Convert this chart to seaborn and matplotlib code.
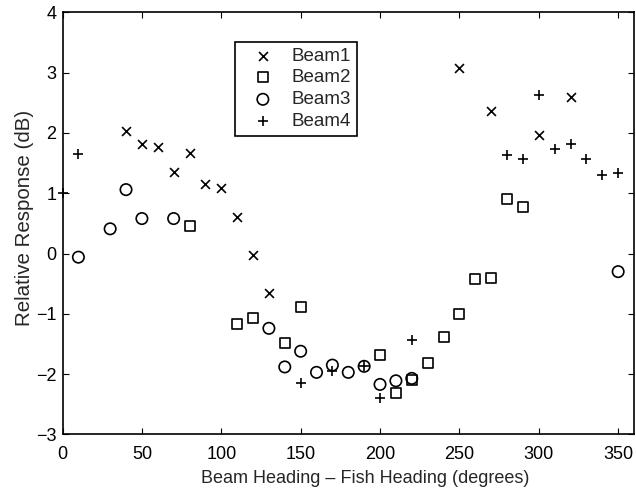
import matplotlib
matplotlib.use("Agg")
import matplotlib.pyplot as plt
import seaborn as sns
import pandas as pd

# Relative response of each beam versus beam heading minus fish heading
beam1_x = [40, 50, 60, 70, 80, 90, 100, 110, 120, 130, 250, 270, 300, 320]
beam1_y = [2.03, 1.82, 1.76, 1.35, 1.66, 1.15, 1.09, 0.61, -0.03, -0.66, 3.07, 2.36, 1.96, 2.59]

beam2_x = [80, 110, 120, 140, 150, 200, 210, 220, 230, 240, 250, 260, 270, 280, 290]
beam2_y = [0.46, -1.17, -1.07, -1.48, -0.88, -1.68, -2.31, -2.10, -1.81, -1.39, -1.01, -0.43, -0.40, 0.90, 0.78]

beam3_x = [10, 30, 40, 50, 70, 130, 140, 150, 160, 170, 180, 190, 200, 210, 220, 350]
beam3_y = [-0.06, 0.41, 1.06, 0.58, 0.58, -1.24, -1.88, -1.62, -1.97, -1.85, -1.97, -1.87, -2.17, -2.11, -2.07, -0.30]

beam4_x = [0, 10, 150, 170, 190, 200, 220, 280, 290, 300, 310, 320, 330, 340, 350]
beam4_y = [1.0, 1.65, -2.14, -1.94, -1.87, -2.39, -1.44, 1.63, 1.56, 2.63, 1.73, 1.81, 1.56, 1.31, 1.34]

beam_names = ["Beam1", "Beam2", "Beam3", "Beam4"]
x_ticks = [0, 50, 100, 150, 200, 250, 300, 350]
y_ticks = [-3, -2, -1, 0, 1, 2, 3, 4]

sns.set_style("white")
plt.rcParams["font.family"] = ["Liberation Sans", "DejaVu Sans"]
plt.rcParams["font.size"] = 13

fig = plt.figure(figsize=(6.36, 4.90), dpi=100)
ax = fig.add_axes([0.0983, 0.1133, 0.8986, 0.8616])

series = [
    (beam1_x, beam1_y, "x", 6.4, True),
    (beam2_x, beam2_y, "s", 7.2, False),
    (beam3_x, beam3_y, "o", 8.2, False),
    (beam4_x, beam4_y, "+", 7.8, True),
]
for name, (xs, ys, mk, ms, line_art) in zip(beam_names, series):
    df = pd.DataFrame({"heading": xs, "response": ys})
    if line_art:
        sns.scatterplot(data=df, x="heading", y="response", marker=mk, s=ms ** 2,
                        color="black", linewidth=1.2, label=name, ax=ax, clip_on=False)
    else:
        sns.scatterplot(data=df, x="heading", y="response", marker=mk, s=ms ** 2,
                        facecolors="none", edgecolor="black", linewidth=1.2,
                        label=name, ax=ax, clip_on=False)

ax.set_xlim(0, 360)
ax.set_ylim(-3, 4)
ax.set_xticks(x_ticks)
ax.set_yticks(y_ticks)
ax.set_xlabel("Beam Heading \u2013 Fish Heading (degrees)", fontsize=13)
ax.set_ylabel("Relative Response (dB)", fontsize=14.8)
ax.xaxis.set_label_coords(0.529, -0.083)
ax.yaxis.set_label_coords(-0.050, 0.512)
ax.set_yticklabels([str(t).replace("-", "\u2212") for t in y_ticks])

for side in ["left", "right", "top", "bottom"]:
    ax.spines[side].set_visible(True)
    ax.spines[side].set_color("black")
    ax.spines[side].set_linewidth(1.2)
ax.tick_params(direction="in", length=4.5, width=0.8, top=True, right=True,
               left=True, bottom=True, colors="black", labelcolor="black",
               labelsize=13)
ax.tick_params(axis="x", pad=8.5)
ax.tick_params(axis="y", pad=4.5)

leg = ax.legend(loc="upper left", bbox_to_anchor=(0.302, 0.930), borderaxespad=0,
                frameon=True, fancybox=False, edgecolor="black", framealpha=1,
                scatterpoints=1, handlelength=2.36, handletextpad=0.365,
                labelspacing=0.25, borderpad=0.3, fontsize=13.5)
leg.get_frame().set_linewidth(1.2)

fig.savefig("out.png", dpi=100)
